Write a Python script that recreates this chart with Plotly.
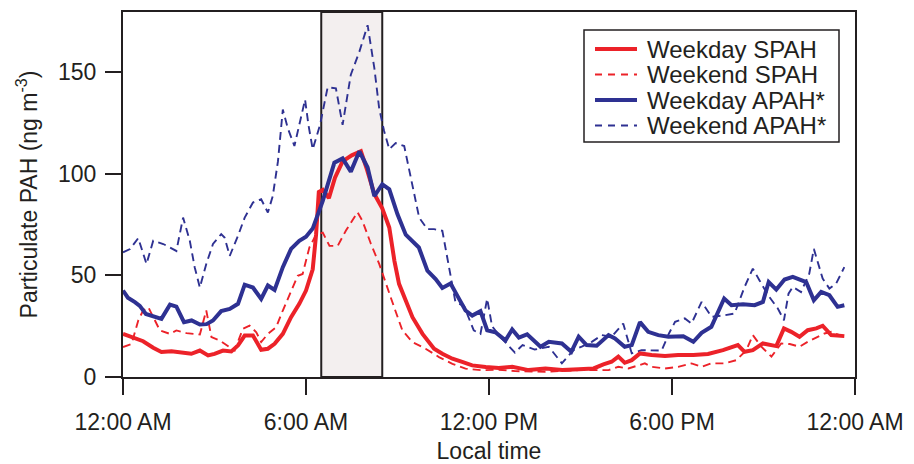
import plotly.graph_objects as go

# ---------------- data (hour of day, ng m-3) ----------------
weekday_spah = [
    (0, 21.2), (0.34, 19.3), (0.66, 17.6), (0.99, 14.4), (1.26, 12.3), (1.59, 12.7), (1.92, 11.9),
    (2.24, 11.4), (2.52, 13.0), (2.79, 10.6), (3.0, 11.4), (3.28, 13.0), (3.55, 12.6), (3.77, 15.5),
    (3.99, 20.4), (4.26, 20.4), (4.53, 13.4), (4.75, 13.9), (4.97, 16.3), (5.24, 21.2), (5.51, 29.4),
    (5.78, 36.0), (6.0, 42.5), (6.22, 53.0), (6.33, 70.0), (6.42, 91.0), (6.55, 92.0), (6.75, 88.0),
    (6.95, 98.0), (7.2, 106.0), (7.5, 109.0), (7.8, 111.0), (8.0, 102.0), (8.24, 90.0), (8.5, 83.0),
    (8.73, 73.5), (8.9, 57.0), (9.05, 45.8), (9.27, 37.6), (9.49, 29.4), (9.82, 21.2), (10.2, 13.9),
    (10.47, 11.4), (10.8, 9.0), (11.12, 7.4), (11.45, 5.7), (11.89, 4.9), (12.32, 4.4), (12.76, 5.0),
    (13.3, 3.4), (13.85, 4.2), (14.4, 3.4), (14.94, 3.8), (15.43, 4.2), (15.75, 6.2), (16.02, 7.5),
    (16.24, 10.0), (16.45, 7.0), (16.68, 8.3), (16.95, 11.6), (17.33, 10.8), (17.77, 10.3), (18.2, 10.8),
    (18.7, 10.8), (19.18, 11.3), (19.67, 13.2), (20.16, 15.7), (20.38, 12.4), (20.65, 13.2), (20.98, 16.5),
    (21.42, 15.2), (21.67, 23.9), (21.91, 22.2), (22.18, 19.8), (22.45, 23.0), (22.73, 23.9), (22.94, 25.2),
    (23.22, 20.6), (23.65, 20.1),
]

weekend_spah = [
    (0, 14.7), (0.28, 16.3), (0.5, 27.8), (0.66, 32.7), (0.83, 34.3), (1.21, 22.9), (1.54, 21.2),
    (1.75, 22.9), (2.08, 21.6), (2.52, 20.9), (2.73, 32.7), (2.9, 19.6), (3.17, 18.0), (3.33, 16.3),
    (3.66, 13.0), (3.93, 23.7), (4.15, 25.3), (4.37, 22.0), (4.53, 17.2), (4.75, 21.2), (5.02, 24.5),
    (5.24, 32.7), (5.51, 42.5), (5.73, 49.8), (5.89, 50.7), (6.11, 63.7), (6.33, 70.0), (6.55, 71.0),
    (6.77, 64.5), (7.04, 64.5), (7.31, 72.0), (7.69, 81.0), (7.85, 76.8), (8.13, 65.4), (8.4, 55.6),
    (8.62, 45.8), (8.89, 34.3), (9.16, 22.9), (9.49, 17.2), (9.92, 13.9), (10.36, 9.8), (10.8, 6.5),
    (11.23, 4.1), (11.78, 3.3), (12.32, 3.6), (12.86, 2.9), (13.85, 2.6), (14.94, 3.4), (15.92, 3.4),
    (16.24, 5.0), (16.57, 4.2), (17.11, 6.7), (17.33, 5.0), (17.77, 4.2), (18.2, 5.0), (18.64, 6.7),
    (18.97, 5.0), (19.29, 6.7), (19.73, 6.7), (20.11, 8.3), (20.44, 13.2), (20.65, 20.6), (20.93, 14.9),
    (21.26, 10.0), (21.58, 16.5), (21.86, 16.2), (22.18, 14.9), (22.45, 17.3), (22.78, 19.8), (23.0, 21.4),
    (23.22, 22.2), (23.49, 20.6),
]

weekday_apah = [
    (0, 42.5), (0.16, 39.0), (0.39, 36.8), (0.55, 35.0), (0.75, 31.0), (0.99, 30.0), (1.26, 28.6),
    (1.54, 35.6), (1.75, 34.6), (2.0, 27.0), (2.25, 27.8), (2.52, 25.8), (2.74, 26.0), (2.95, 27.8),
    (3.22, 32.4), (3.5, 33.5), (3.77, 36.0), (3.99, 45.4), (4.26, 44.0), (4.53, 38.4), (4.75, 45.0),
    (4.97, 42.8), (5.24, 54.0), (5.51, 63.0), (5.78, 67.0), (6.0, 69.0), (6.22, 73.0), (6.55, 86.6),
    (6.93, 105.4), (7.2, 107.5), (7.47, 101.0), (7.75, 111.0), (8.02, 103.0), (8.24, 89.0), (8.5, 94.8),
    (8.73, 92.3), (9.0, 80.0), (9.27, 70.0), (9.49, 67.0), (9.7, 63.7), (9.98, 52.3), (10.25, 48.2),
    (10.47, 43.8), (10.74, 46.0), (10.96, 40.0), (11.23, 32.7), (11.45, 30.2), (11.72, 32.4), (11.94, 23.0),
    (12.21, 22.0), (12.54, 18.0), (12.76, 23.4), (12.98, 19.4), (13.25, 21.0), (13.69, 14.9), (13.96, 17.3),
    (14.39, 16.5), (14.7, 12.4), (14.94, 19.8), (15.2, 15.7), (15.53, 15.4), (15.92, 20.6), (16.13, 19.0),
    (16.45, 14.9), (16.68, 15.7), (16.95, 27.0), (17.22, 22.2), (17.55, 20.6), (17.88, 19.8), (18.37, 20.0),
    (18.7, 17.3), (18.97, 21.7), (19.29, 24.7), (19.71, 38.6), (19.95, 35.3), (20.33, 35.8), (20.71, 35.3),
    (20.98, 36.9), (21.17, 46.7), (21.42, 43.0), (21.69, 47.9), (21.96, 49.2), (22.4, 46.7), (22.65, 37.7),
    (22.89, 41.8), (23.16, 40.2), (23.43, 34.5), (23.65, 35.3),
]

weekend_apah = [
    (0, 61.3), (0.23, 62.9), (0.5, 68.3), (0.77, 55.6), (0.99, 67.0), (1.32, 65.4), (1.54, 63.7),
    (1.75, 62.0), (1.97, 78.4), (2.19, 67.0), (2.35, 54.0), (2.52, 44.0), (2.73, 55.6), (2.95, 65.4),
    (3.22, 70.3), (3.33, 68.6), (3.5, 59.6), (3.77, 69.4), (3.99, 78.4), (4.26, 85.8), (4.53, 87.4),
    (4.75, 80.9), (4.91, 89.0), (5.08, 106.0), (5.24, 131.5), (5.4, 122.5), (5.62, 113.6), (5.84, 127.5),
    (5.97, 136.4), (6.08, 124.0), (6.22, 112.0), (6.46, 124.0), (6.71, 142.5), (6.98, 142.0), (7.2, 124.0),
    (7.47, 148.7), (7.75, 160.0), (8.02, 173.0), (8.24, 152.0), (8.4, 132.0), (8.56, 121.0), (8.73, 112.0),
    (8.94, 115.0), (9.22, 113.6), (9.49, 94.8), (9.71, 78.4), (9.98, 72.7), (10.2, 72.7), (10.47, 71.9),
    (10.69, 54.0), (10.9, 36.8), (11.18, 35.0), (11.5, 22.9), (11.72, 21.2), (11.94, 38.5), (12.1, 25.0),
    (12.38, 19.6), (12.85, 12.0), (13.1, 15.7), (13.5, 13.5), (13.96, 14.9), (14.39, 6.7), (14.77, 13.2),
    (15.04, 14.9), (15.37, 17.3), (15.7, 20.6), (16.02, 19.8), (16.4, 26.3), (16.68, 11.6), (17.0, 13.2),
    (17.33, 13.2), (17.66, 13.0), (17.9, 21.4), (18.1, 27.1), (18.42, 28.8), (18.64, 26.3), (18.97, 36.9),
    (19.3, 29.6), (19.73, 30.4), (20.05, 31.2), (20.38, 44.3), (20.65, 53.3), (20.87, 47.5), (21.15, 40.2),
    (21.47, 33.7), (21.67, 27.9), (21.82, 41.0), (21.96, 44.3), (22.23, 41.8), (22.5, 50.8), (22.65, 63.0),
    (22.78, 56.5), (22.94, 48.4), (23.16, 43.5), (23.38, 45.9), (23.65, 54.0),
]

rush_window = (6.5, 8.5)  # shaded morning period (hours)

tick_hours = [0, 6, 12, 18, 24]
tick_labels = ["12:00 AM", "6:00 AM", "12:00 PM", "6:00 PM", "12:00 AM"]
y_ticks = [0, 50, 100, 150]

series_names = ["Weekday SPAH", "Weekend SPAH", "Weekday APAH*", "Weekend APAH*"]

# ---------------- styles ----------------
RED = "#ec2229"
BLUE = "#2e3192"
INK = "#231f20"
FONT = "Liberation Sans, Arial, Helvetica, sans-serif"
DASH = "8px,5px"

styles = {
    "Weekday SPAH": dict(color=RED, width=4, dash="solid"),
    "Weekend SPAH": dict(color=RED, width=1.9, dash=DASH),
    "Weekday APAH*": dict(color=BLUE, width=4, dash="solid"),
    "Weekend APAH*": dict(color=BLUE, width=1.9, dash=DASH),
}
data = {
    "Weekday SPAH": weekday_spah,
    "Weekend SPAH": weekend_spah,
    "Weekday APAH*": weekday_apah,
    "Weekend APAH*": weekend_apah,
}

fig = go.Figure()
for name in ["Weekend SPAH", "Weekend APAH*", "Weekday SPAH", "Weekday APAH*"]:
    xs = [p[0] for p in data[name]]
    ys = [p[1] for p in data[name]]
    fig.add_trace(go.Scatter(x=xs, y=ys, mode="lines", name=name,
                             line=styles[name], showlegend=False))

# page body has an 8px default margin, so the figure is offset by 8px
OFF = 8
W, H = 914 - OFF, 464 - OFF
L, T = 123 - OFF, 12 - OFF
R = W - (855 - OFF)
B = H - (377 - OFF)
pw, ph = W - L - R, H - T - B

def px2paper(px, py):
    # px, py are page pixel coordinates
    return (px - OFF - L) / pw, (H - B - (py - OFF)) / ph

shapes = [
    dict(type="rect", xref="x", yref="paper", x0=rush_window[0], x1=rush_window[1], y0=0, y1=1,
         fillcolor="#f3efef", line=dict(color=INK, width=2), layer="below"),
]

# manual legend
bx0, by0 = px2paper(584, 30)
bx1, by1 = px2paper(839, 142)
shapes.append(dict(type="rect", xref="paper", yref="paper", x0=bx0, x1=bx1, y0=by1, y1=by0,
                   line=dict(color=INK, width=1.5), fillcolor="white", layer="above"))
annotations = []
for i, name in enumerate(series_names):
    cy = 49 + 25.5 * i
    lx0, ly = px2paper(595, cy)
    lx1, _ = px2paper(637, cy)
    st = styles[name]
    shapes.append(dict(type="line", xref="paper", yref="paper", x0=lx0, x1=lx1, y0=ly, y1=ly,
                       line=dict(color=st["color"], width=st["width"],
                                 dash="solid" if st["dash"] == "solid" else "7px,6px"),
                       layer="above"))
    tx, _ = px2paper(645, cy)
    annotations.append(dict(text=name, xref="paper", yref="paper", x=tx, y=ly, xanchor="left",
                            yanchor="middle", showarrow=False,
                            font=dict(size=24, color=INK, family=FONT)))

axis_common = dict(showline=True, linecolor=INK, linewidth=2, mirror=True, ticks="outside",
                   ticklen=16, tickwidth=1.5, tickcolor=INK, showgrid=False, zeroline=False,
                   automargin=False,
                   tickfont=dict(size=23, color=INK, family=FONT))

fig.update_layout(
    width=W, height=H,
    margin=dict(l=L, r=R, t=T, b=B),
    paper_bgcolor="white", plot_bgcolor="white",
    font=dict(family=FONT, color=INK),
    shapes=shapes, annotations=annotations,
    xaxis=dict(range=[0, 24], tickvals=tick_hours, ticktext=tick_labels,
               ticklabelstandoff=7,
               title=dict(text="Local time", font=dict(size=23, color=INK, family=FONT), standoff=10),
               **axis_common),
    yaxis=dict(range=[0, 179.5], tickvals=y_ticks, ticklabelstandoff=4,
               title=dict(text="Particulate PAH (ng m<sup>-3</sup>)",
                          font=dict(size=23, color=INK, family=FONT), standoff=14),
               **axis_common),
)

fig.write_html("out.html")
